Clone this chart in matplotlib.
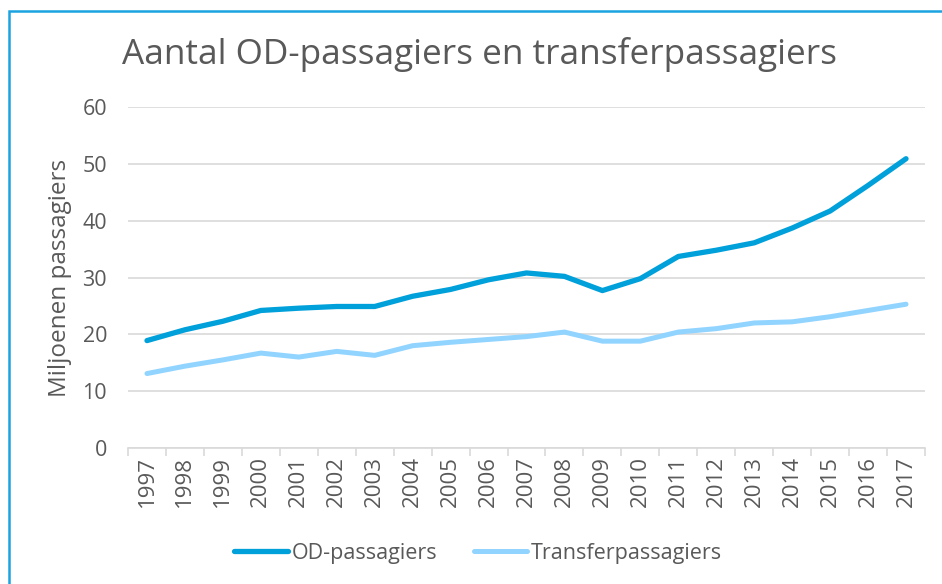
#!/usr/bin/env python3

"""
Aantal OD-passagiers en transferpassagiers, 1997-2017 (miljoenen).
"""

import matplotlib.pyplot as plt
from matplotlib.patches import Rectangle

years = [str(y) for y in range(1997, 2018)]

od_passagiers = [18.9, 20.8, 22.3, 24.2, 24.6, 24.9, 24.9, 26.7, 27.9, 29.6, 30.8,
                 30.2, 27.7, 29.8, 33.7, 34.8, 36.1, 38.7, 41.7, 46.2, 50.9]
transfer_passagiers = [13.1, 14.4, 15.5, 16.7, 16.0, 17.0, 16.3, 18.0, 18.6, 19.1, 19.6,
                       20.4, 18.8, 18.8, 20.4, 21.0, 22.0, 22.2, 23.1, 24.2, 25.3]

y_ticks = [0, 10, 20, 30, 40, 50, 60]

plt.rcParams["font.family"] = ["Open Sans", "DejaVu Sans"]
text_color = "#595959"
grid_color = "#d9d9d9"

fig = plt.figure(figsize=(9.42, 5.84), dpi=100)
ax = fig.add_axes([128 / 942, 1 - 448 / 584, 797 / 942, 341 / 584])

x = list(range(len(years)))
ax.plot(x, od_passagiers, color="#00a0da", lw=3.8, solid_capstyle="round",
        solid_joinstyle="round", label="OD-passagiers")
ax.plot(x, transfer_passagiers, color="#91d4ff", lw=3.6, solid_capstyle="round",
        solid_joinstyle="round", label="Transferpassagiers")

ax.set_xlim(-0.5, len(years) - 0.5)
ax.set_ylim(0, 60)
ax.set_yticks(y_ticks)
ax.set_yticklabels([str(v) for v in y_ticks], fontsize=15.5, color=text_color)
ax.set_xticks(x)
ax.set_xticklabels(years, rotation=90, fontsize=16, color=text_color)
ax.set_xticks([i - 0.5 for i in range(len(years) + 1)], minor=True)
ax.tick_params(axis="x", which="major", length=0, pad=6)
ax.tick_params(axis="x", which="minor", length=6, color=grid_color, width=1.2)
ax.tick_params(axis="y", length=0, pad=15)

ax.grid(True, axis="y", color=grid_color, lw=1.2)
ax.set_axisbelow(True)
for side in ["top", "right", "left"]:
    ax.spines[side].set_visible(False)
ax.spines["bottom"].set_color(grid_color)
ax.spines["bottom"].set_linewidth(1.2)

ax.set_ylabel("Miljoenen passagiers", fontsize=17.5, color=text_color)
ax.yaxis.set_label_coords((72 - 128) / 797, 0.5)

fig.text(480 / 942, 1 - 55 / 584, "Aantal OD-passagiers en transferpassagiers",
         ha="center", va="center", fontsize=25.3, color=text_color)

fig.legend(loc="center", bbox_to_anchor=(478 / 942, 1 - 553 / 584), ncol=2,
           frameon=False, fontsize=15.5, handlelength=2.5, handletextpad=0.15,
           columnspacing=1.7, labelcolor=text_color)

# blue frame around the chart (only top and left edges visible)
fig.patches.append(Rectangle((9 / 942, -0.1), 1.1, 1 - 11 / 584 + 0.1,
                             transform=fig.transFigure, fill=False,
                             edgecolor="#1aa3e0", lw=1.8))

fig.savefig("out.png", dpi=100)
plt.close(fig)
